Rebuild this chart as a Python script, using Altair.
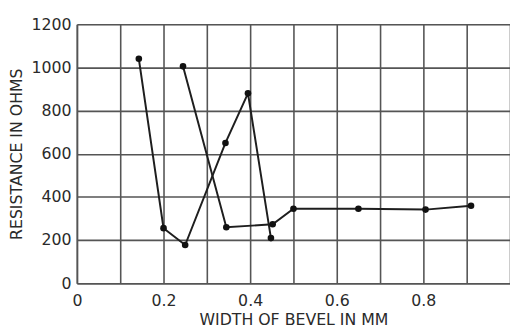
import altair as alt
import pandas as pd

# Series A (starts near 1040 ohms)
a_x = [0.143, 0.20, 0.25, 0.343, 0.395, 0.448]
a_y = [1040, 255, 177, 650, 880, 209]
# Series B (starts near 1000 ohms)
b_x = [0.245, 0.345, 0.452, 0.50, 0.65, 0.805, 0.91]
b_y = [1005, 259, 273, 345, 345, 341, 359]

x_grid = [round(i * 0.1, 1) for i in range(0, 11)]
y_grid = [0, 200, 400, 600, 800, 1000, 1200]

df = pd.concat([
    pd.DataFrame({"width": a_x, "resistance": a_y, "series": "A", "order": range(len(a_x))}),
    pd.DataFrame({"width": b_x, "resistance": b_y, "series": "B", "order": range(len(b_x))}),
])

FONT = "DejaVu Sans"
INK = "#2a2a2a"
GRID = "#555555"

x_enc = alt.X(
    "width:Q",
    scale=alt.Scale(domain=[0, 1.0], nice=False, zero=True),
    axis=alt.Axis(
        title="WIDTH OF BEVEL IN MM",
        values=x_grid,
        labelExpr="(abs(datum.value*10 % 2) < 0.01 && datum.value < 0.95) ? (datum.value == 0 ? '0' : format(datum.value, '.1f')) : ''",
        grid=True, gridColor=GRID, gridWidth=1.6, gridOpacity=1,
        domain=True, domainColor=GRID, domainWidth=1.6,
        ticks=False, labelPadding=10, labelFontSize=16, labelFont=FONT, labelColor=INK,
        labelAlign="center",
        titleFont=FONT, titleFontSize=16, titleFontWeight="normal", titleColor=INK, titlePadding=3,
    ),
)
y_enc = alt.Y(
    "resistance:Q",
    scale=alt.Scale(domain=[0, 1200], nice=False),
    axis=alt.Axis(
        title="RESISTANCE IN OHMS",
        values=y_grid,
        format="d",
        grid=True, gridColor=GRID, gridWidth=1.6, gridOpacity=1,
        domain=True, domainColor=GRID, domainWidth=1.6,
        ticks=False, labelPadding=6, labelFontSize=16, labelFont=FONT, labelColor=INK,
        titleFont=FONT, titleFontSize=16, titleFontWeight="normal", titleColor=INK, titlePadding=7,
    ),
)

base = alt.Chart(df).encode(x=x_enc, y=y_enc, detail="series:N", order="order:Q")
lines = base.mark_line(color="#1e1e1e", strokeWidth=2)
points = base.mark_point(filled=True, color="#111111", size=45, opacity=1)

chart = (lines + points).properties(
    width=440, height=263,
    autosize=alt.AutoSizeParams(type="none"),
    padding={"left": 70, "top": 14, "right": 0, "bottom": 44},
).configure_view(stroke=None).configure(background="white")

chart.save("out.html", embed_options={"renderer": "svg", "actions": False})
